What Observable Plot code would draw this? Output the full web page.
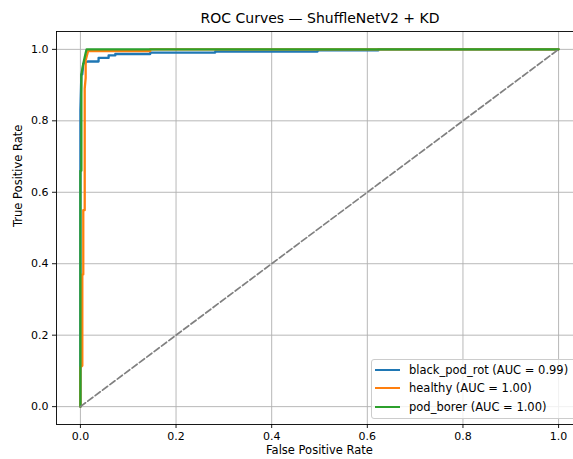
<!DOCTYPE html>
<html>
<head>
<meta charset="utf-8">
<script src="https://cdn.jsdelivr.net/npm/d3@7"></script>
<script src="https://cdn.jsdelivr.net/npm/@observablehq/plot@0.6"></script>
<style>
  html, body { margin: 0; padding: 0; background: #fff; }
  body { width: 573px; height: 459px; overflow: hidden; position: relative; font-family: "DejaVu Sans"; }
  #title { position: absolute; z-index: 2; left: 0; top: 10px; width: 640px; text-align: center; font-family: "DejaVu Sans"; font-size: 14px; line-height: 16px; color: #000; }
  #chart { position: absolute; z-index: 1; left: 0; top: 24px; }
  #legend { position: absolute; z-index: 3; left: 371px; top: 359px; width: 215px; height: 60px; box-sizing: border-box;
            border: 1px solid #cccccc; border-radius: 3px; background: rgba(255,255,255,0.8); font-family: "DejaVu Sans"; font-size: 11.5px; color: #000; }
  .row { position: absolute; left: 0; height: 14px; line-height: 14px; white-space: nowrap; }
  .sw { position: absolute; left: 3px; top: 6px; width: 25px; height: 2.3px; }
  .lab { position: absolute; left: 37px; top: 0; }
</style>
</head>
<body>
<div id="title"></div>
<div id="chart"></div>
<div id="legend"></div>
<script>
const titleText = "ROC Curves — ShuffleNetV2 + KD";
const xLabel = "False Positive Rate";
const yLabel = "True Positive Rate";
const tickValues = [0, 0.2, 0.4, 0.6, 0.8, 1.0];

const seriesNames = ["black_pod_rot", "healthy", "pod_borer"];
const seriesAuc = ["0.99", "1.00", "1.00"];
const seriesColors = ["#1f77b4", "#ff7f0e", "#2ca02c"];

const blackPodRotFpr = [0, 0, 0.002, 0.004, 0.006, 0.015, 0.038, 0.038, 0.059, 0.059, 0.073, 0.073, 0.146, 0.146, 0.282, 0.282, 0.496, 0.496, 0.623, 0.623, 1.0];
const blackPodRotTpr = [0, 0.83, 0.93, 0.93, 0.96, 0.966, 0.966, 0.976, 0.976, 0.983, 0.983, 0.987, 0.987, 0.991, 0.991, 0.994, 0.994, 0.997, 0.997, 1.0, 1.0];

const healthyFpr = [0, 0, 0.004, 0.004, 0.006, 0.006, 0.009, 0.009, 0.011, 0.011, 0.016, 0.146, 0.146, 1.0];
const healthyTpr = [0, 0.11, 0.115, 0.37, 0.37, 0.55, 0.55, 0.89, 0.92, 0.97, 0.995, 0.995, 1.0, 1.0];

const podBorerFpr = [0, 0, 0.002, 0.002, 0.006, 0.011, 0.013, 1.0];
const podBorerTpr = [0, 0.66, 0.66, 0.93, 0.96, 0.99, 1.0, 1.0];

const chanceFpr = [0, 1];
const chanceTpr = [0, 1];

const fprs = [blackPodRotFpr, healthyFpr, podBorerFpr];
const tprs = [blackPodRotTpr, healthyTpr, podBorerTpr];
const rows = [];
seriesNames.forEach((name, i) => fprs[i].forEach((f, j) => rows.push({series: name, fpr: f, tpr: tprs[i][j]})));
const chance = chanceFpr.map((f, j) => ({fpr: f, tpr: chanceTpr[j]}));

document.getElementById("title").textContent = titleText;

const chart = Plot.plot({
  width: 573,
  height: 435,
  marginLeft: 56,
  marginRight: -9,
  marginTop: 7,
  marginBottom: 35,
  style: {fontFamily: "'DejaVu Sans'", fontSize: "11px", color: "#000", background: "transparent", overflow: "visible"},
  x: {domain: [-0.05, 1.05]},
  y: {domain: [-0.05, 1.05]},
  color: {domain: seriesNames, range: seriesColors},
  marks: [
    Plot.gridX(tickValues, {stroke: "#b0b0b0", strokeOpacity: 1, strokeWidth: 0.9}),
    Plot.gridY(tickValues, {stroke: "#b0b0b0", strokeOpacity: 1, strokeWidth: 0.9}),
    Plot.line(rows, {x: "fpr", y: "tpr", z: "series", stroke: "series", strokeWidth: 2.3, strokeLinejoin: "round"}),
    Plot.line(chance, {x: "fpr", y: "tpr", stroke: "#808080", strokeWidth: 1.7, strokeDasharray: "6.4,2.8"}),
    Plot.frame({stroke: "#000", strokeWidth: 0.9}),
    Plot.axisX(tickValues, {tickFormat: d3.format(".1f"), tickSize: 4, tickPadding: 4, label: null, fontSize: 11, stroke: "#000", fill: "#000", strokeWidth: 0.9}),
    Plot.axisY(tickValues, {tickFormat: d3.format(".1f"), tickSize: 4, tickPadding: 4, label: null, fontSize: 11, stroke: "#000", fill: "#000", strokeWidth: 0.9}),
    Plot.text([xLabel], {text: d => d, frameAnchor: "bottom", dy: 29, fontSize: 11.5, fill: "#000"}),
    Plot.text([yLabel], {text: d => d, frameAnchor: "left", dx: -38, dy: -1, rotate: -90, fontSize: 11.5, fill: "#000"})
  ]
});
document.getElementById("chart").appendChild(chart);

const legend = document.getElementById("legend");
seriesNames.forEach((name, i) => {
  const row = document.createElement("div");
  row.className = "row";
  row.style.top = Math.round(3 + i * 18.3) + "px";
  row.style.width = "100%";
  const sw = document.createElement("div");
  sw.className = "sw";
  sw.style.background = seriesColors[i];
  const lab = document.createElement("div");
  lab.className = "lab";
  lab.textContent = `${name} (AUC = ${seriesAuc[i]})`;
  row.appendChild(sw);
  row.appendChild(lab);
  legend.appendChild(row);
});
</script>
</body>
</html>
